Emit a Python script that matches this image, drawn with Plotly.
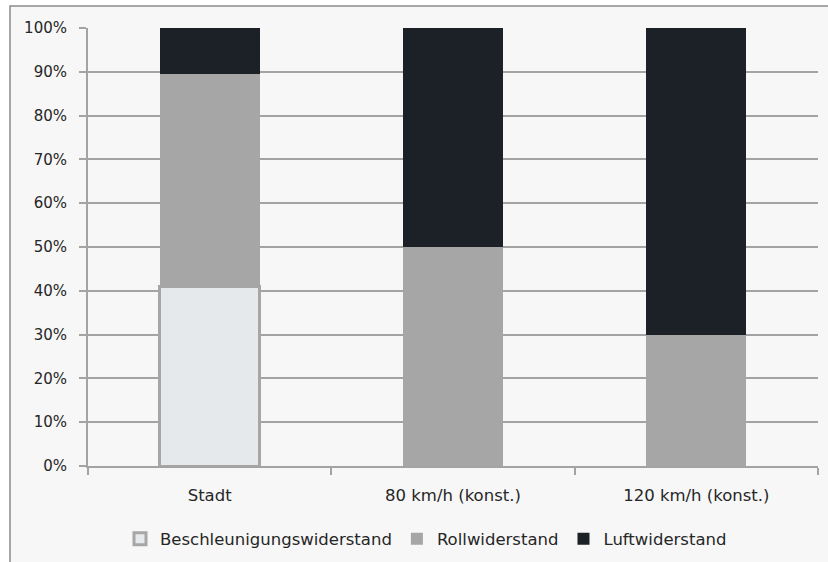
import plotly.graph_objects as go

# Anteile der Fahrwiderstände je Fahrsituation (in %)
categories = ["Stadt", "80 km/h (konst.)", "120 km/h (konst.)"]
beschleunigung = [41, None, None]
roll = [48.5, 50, 30]
luft = [10.5, 50, 70]
y_ticks = [0, 10, 20, 30, 40, 50, 60, 70, 80, 90, 100]
y_ticklabels = [f"{v}%" for v in y_ticks]

W, H = 828, 562
L, R, T, B = 88, 10, 28, 96
pw, ph = W - L - R, H - T - B

FONT = "DejaVu Sans"
TXT = "#262626"
GRID = "#a3a3a3"

fig = go.Figure()
fig.add_trace(go.Bar(
    name="Beschleunigungswiderstand", x=categories, y=beschleunigung,
    marker=dict(color="#e6e9ec", line=dict(color="#a6a6a6", width=3)),
))
fig.add_trace(go.Bar(
    name="Rollwiderstand", x=categories, y=roll,
    marker=dict(color="#a6a6a6", line=dict(width=0)),
))
fig.add_trace(go.Bar(
    name="Luftwiderstand", x=categories, y=luft,
    marker=dict(color="#1b2127", line=dict(width=0)),
))

# Umrechnung Pixel -> Papierkoordinaten
def px_to_paper_x(px):
    return (px - L) / pw

def px_to_paper_y(py):
    return (H - B - py) / ph

# Rahmen um die gesamte Grafik
fig.add_shape(
    type="rect", xref="paper", yref="paper", layer="below",
    x0=px_to_paper_x(10), x1=px_to_paper_x(W + 5),
    y0=px_to_paper_y(H + 5), y1=px_to_paper_y(6),
    line=dict(color="#8c8c8c", width=1.5), fillcolor="#f7f7f7",
)

fig.update_layout(
    width=W, height=H,
    margin=dict(l=L, r=R, t=T, b=B, autoexpand=False),
    barmode="stack", bargap=0.59,
    paper_bgcolor="white", plot_bgcolor="rgba(0,0,0,0)",
    font=dict(family=FONT, size=15, color=TXT),
    legend=dict(
        orientation="h", x=px_to_paper_x(426), xanchor="center",
        y=px_to_paper_y(539), yanchor="middle",
        font=dict(size=16.5, color=TXT), bgcolor="rgba(0,0,0,0)",
        traceorder="normal",
    ),
    xaxis=dict(
        showline=True, linecolor=GRID, linewidth=2, automargin=False,
        ticks="outside", tickson="boundaries", ticklen=7, tickcolor=GRID, tickwidth=1.5,
        showgrid=False, tickfont=dict(size=16.5, color=TXT),
        ticklabelstandoff=13,
    ),
    yaxis=dict(
        range=[0, 100], tickvals=y_ticks, ticktext=y_ticklabels,
        showline=True, linecolor=GRID, linewidth=2, automargin=False,
        ticks="outside", ticklen=7, tickcolor=GRID, tickwidth=1.5,
        showgrid=True, gridcolor=GRID, gridwidth=1.5,
        zeroline=False, ticklabelstandoff=9,
        tickfont=dict(size=15, color=TXT),
    ),
)

fig.write_html("out.html")
